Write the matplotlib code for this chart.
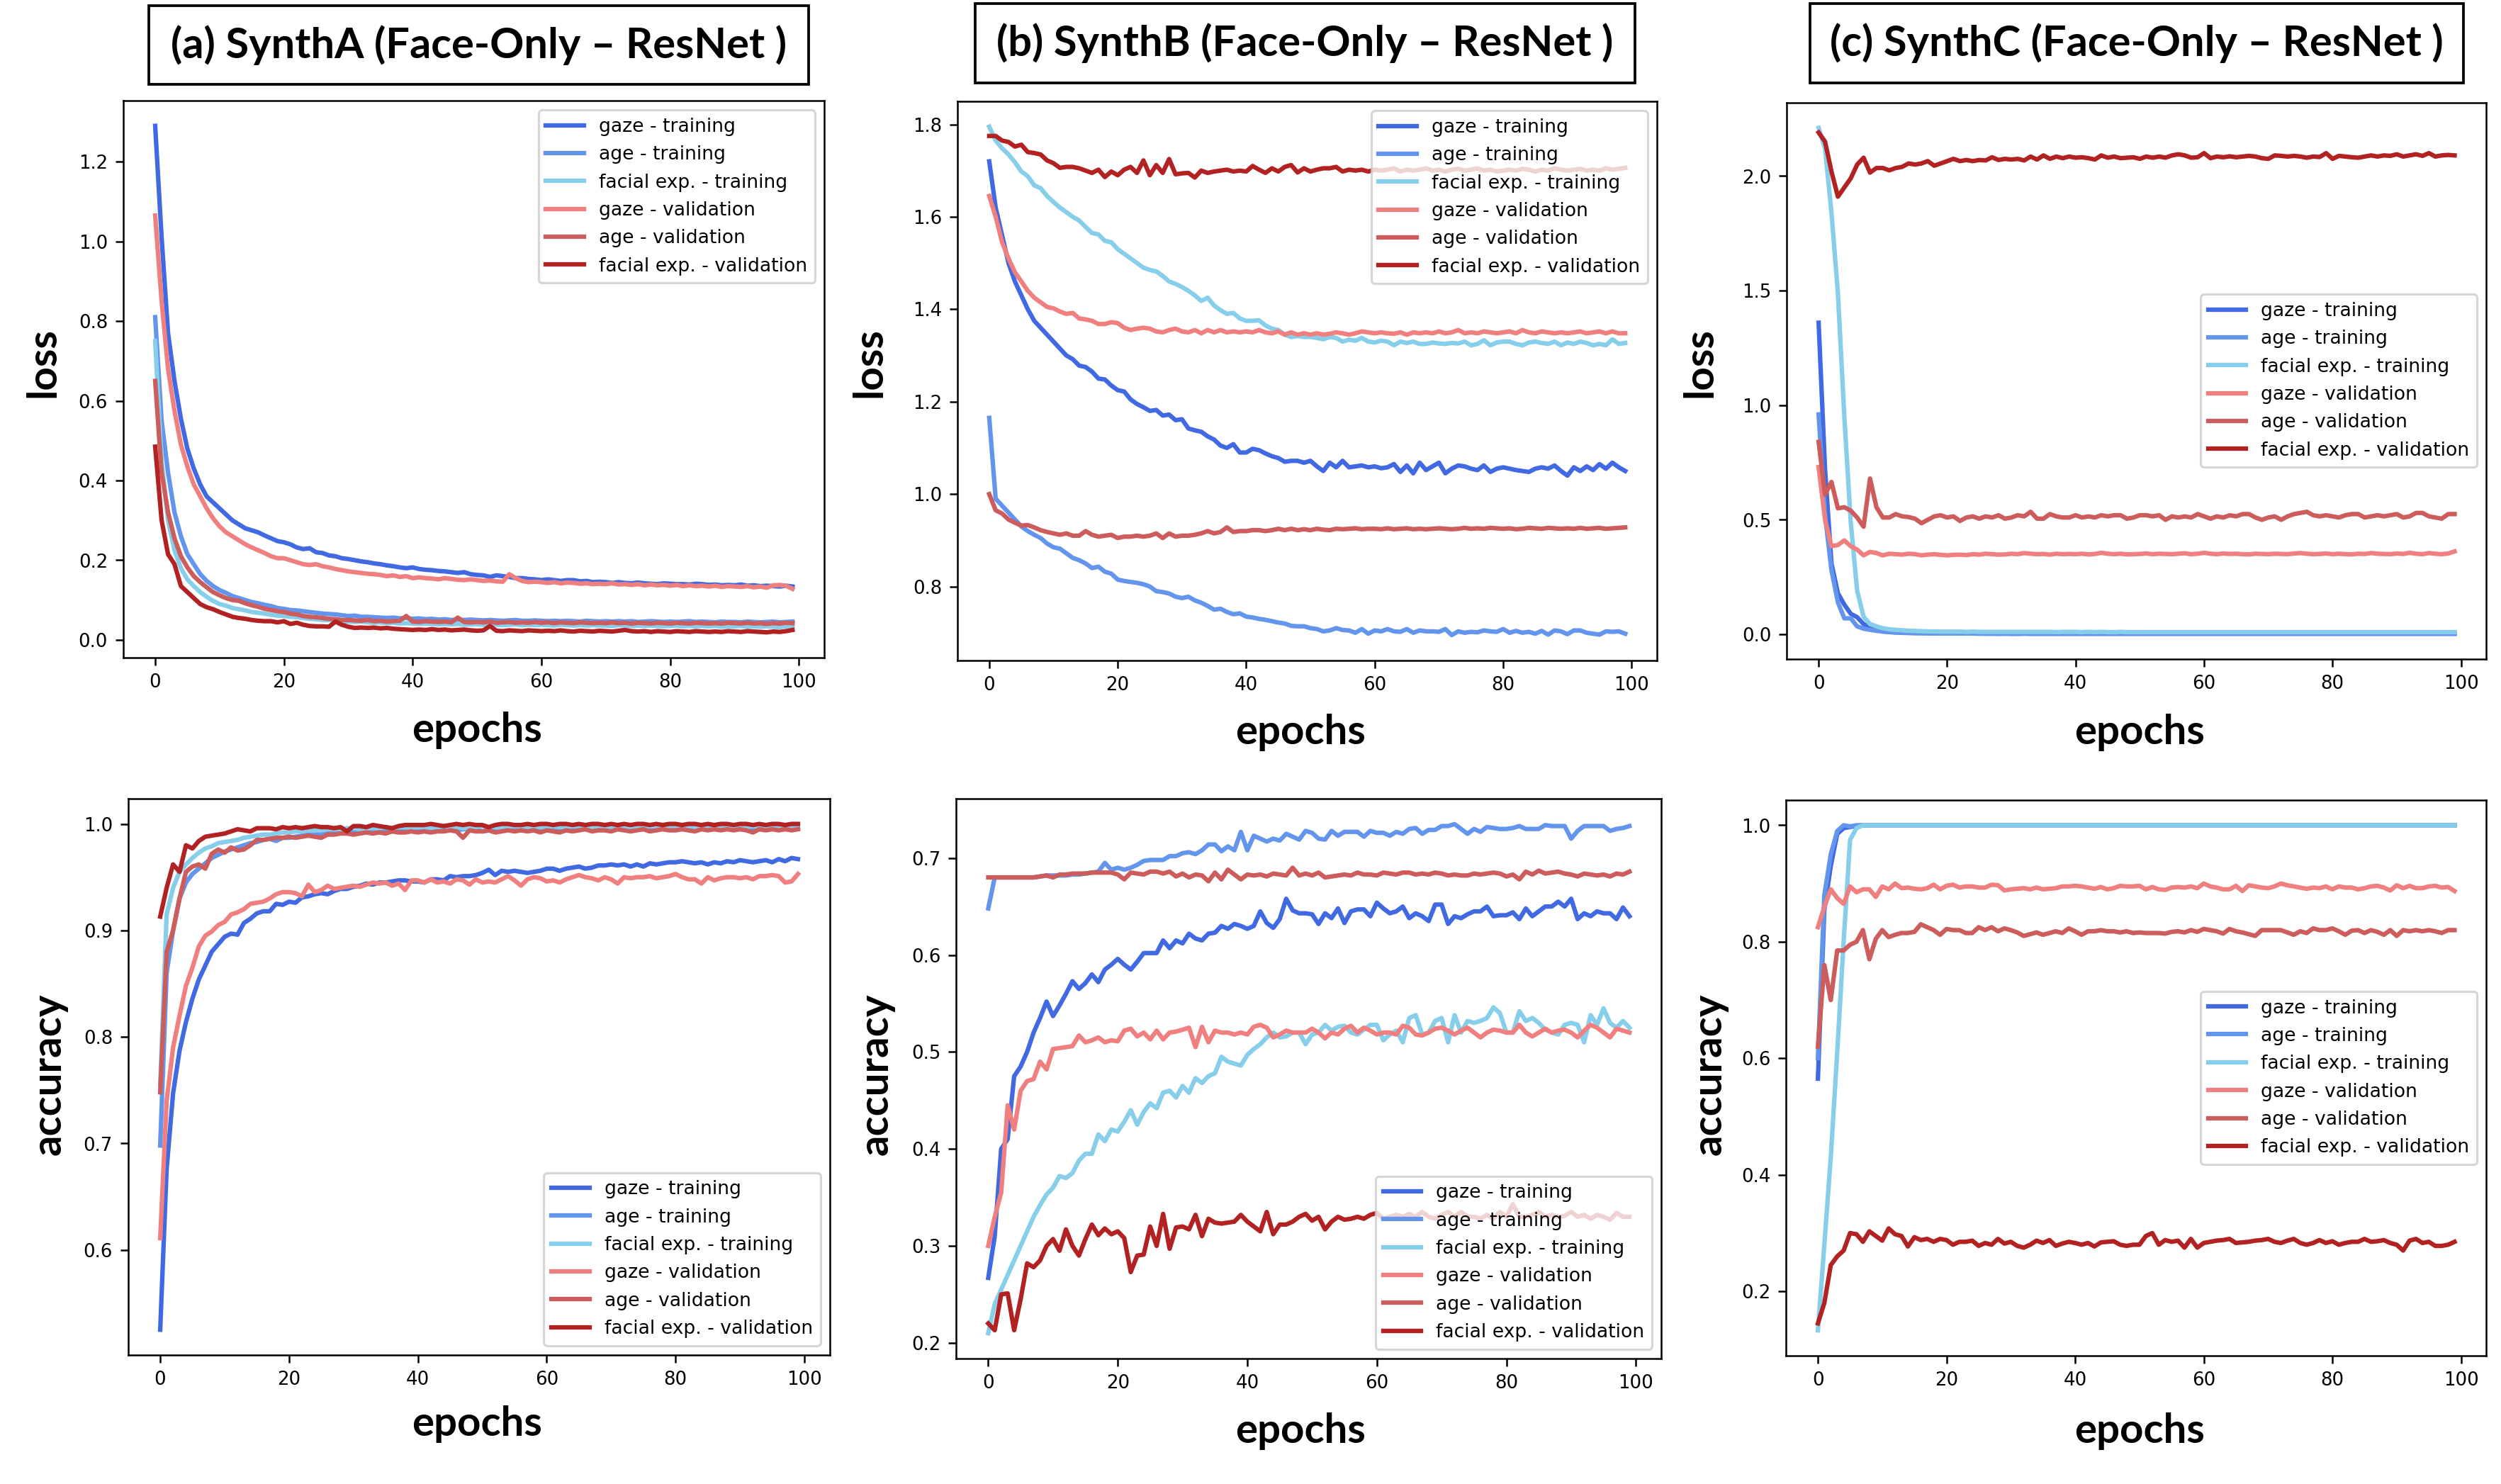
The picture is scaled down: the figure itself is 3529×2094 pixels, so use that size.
import matplotlib
matplotlib.use('Agg')
import matplotlib.pyplot as plt
from matplotlib.patches import Rectangle
from matplotlib.ticker import MultipleLocator

epochs = list(range(100))

series_labels = ['gaze - training', 'age - training', 'facial exp. - training',
                 'gaze - validation', 'age - validation', 'facial exp. - validation']
series_colors = ['#4169E1', '#6495ED', '#87CEEB', '#F08080', '#CD5C5C', '#B22222']

panel_titles = ['(a) SynthA (Face-Only \u2013 ResNet )',
                '(b) SynthB (Face-Only \u2013 ResNet )',
                '(c) SynthC (Face-Only \u2013 ResNet )']

# ---------------- (a) SynthA loss ----------------
loss_a_gaze_tr = [1.29, 1.01, 0.77, 0.65, 0.555, 0.48, 0.43, 0.39, 0.36, 0.345,
                  0.33, 0.315, 0.30, 0.29, 0.28, 0.275, 0.27, 0.262, 0.255, 0.248,
                  0.245, 0.24, 0.232, 0.228, 0.23, 0.22, 0.218, 0.212, 0.21, 0.205,
                  0.203, 0.2, 0.197, 0.195, 0.192, 0.19, 0.187, 0.185, 0.182, 0.18,
                  0.182, 0.178, 0.176, 0.175, 0.173, 0.172, 0.17, 0.168, 0.17, 0.165,
                  0.163, 0.162, 0.158, 0.162, 0.16, 0.158, 0.155, 0.155, 0.153, 0.152,
                  0.15, 0.152, 0.15, 0.148, 0.15, 0.15, 0.147, 0.148, 0.145, 0.146,
                  0.145, 0.143, 0.145, 0.143, 0.142, 0.144, 0.142, 0.141, 0.14, 0.142,
                  0.141, 0.14, 0.14, 0.139, 0.141, 0.14, 0.138, 0.139, 0.137, 0.138,
                  0.137, 0.139, 0.136, 0.137, 0.135, 0.136, 0.135, 0.134, 0.136, 0.134]
loss_a_age_tr = [0.81, 0.55, 0.42, 0.32, 0.26, 0.215, 0.19, 0.165, 0.148, 0.135,
                 0.125, 0.118, 0.11, 0.105, 0.1, 0.095, 0.092, 0.088, 0.085, 0.08,
                 0.078, 0.075, 0.074, 0.072, 0.07, 0.068, 0.066, 0.065, 0.064, 0.062,
                 0.06, 0.061, 0.058, 0.058, 0.057, 0.056, 0.055, 0.056, 0.054, 0.055,
                 0.053, 0.054, 0.052, 0.053, 0.051, 0.052, 0.05, 0.051, 0.05, 0.051,
                 0.05, 0.049, 0.05, 0.049, 0.048, 0.049, 0.05, 0.048, 0.048, 0.049,
                 0.048, 0.047, 0.048, 0.047, 0.048, 0.047, 0.046, 0.048, 0.047, 0.046,
                 0.047, 0.046, 0.047, 0.046, 0.047, 0.045, 0.046, 0.047, 0.046, 0.045,
                 0.046, 0.045, 0.046, 0.047, 0.045, 0.046, 0.045, 0.044, 0.046, 0.045,
                 0.045, 0.044, 0.046, 0.045, 0.044, 0.045, 0.046, 0.044, 0.045, 0.046]
loss_a_fac_tr = [0.75, 0.45, 0.3, 0.225, 0.18, 0.152, 0.135, 0.12, 0.108, 0.098,
                 0.09, 0.086, 0.08, 0.077, 0.074, 0.07, 0.068, 0.066, 0.063, 0.061,
                 0.06, 0.058, 0.057, 0.055, 0.053, 0.052, 0.05, 0.05, 0.048, 0.047,
                 0.046, 0.045, 0.046, 0.044, 0.043, 0.044, 0.042, 0.043, 0.041, 0.042,
                 0.041, 0.04, 0.041, 0.04, 0.039, 0.04, 0.039, 0.04, 0.038, 0.039,
                 0.039, 0.038, 0.039, 0.038, 0.037, 0.038, 0.039, 0.037, 0.038, 0.037,
                 0.038, 0.037, 0.036, 0.038, 0.037, 0.036, 0.037, 0.036, 0.037, 0.036,
                 0.036, 0.035, 0.037, 0.036, 0.035, 0.036, 0.035, 0.036, 0.035, 0.034,
                 0.035, 0.036, 0.034, 0.035, 0.034, 0.035, 0.034, 0.035, 0.033, 0.034,
                 0.034, 0.035, 0.033, 0.034, 0.033, 0.034, 0.033, 0.032, 0.034, 0.035]
loss_a_gaze_val = [1.065, 0.85, 0.68, 0.575, 0.49, 0.435, 0.39, 0.36, 0.33, 0.305,
                   0.285, 0.27, 0.26, 0.25, 0.24, 0.232, 0.225, 0.218, 0.21, 0.205,
                   0.205, 0.2, 0.195, 0.19, 0.188, 0.19, 0.185, 0.182, 0.178, 0.175,
                   0.172, 0.17, 0.168, 0.166, 0.165, 0.163, 0.16, 0.162, 0.158, 0.16,
                   0.155, 0.157, 0.155, 0.154, 0.152, 0.155, 0.153, 0.151, 0.15, 0.152,
                   0.15, 0.148, 0.149, 0.147, 0.146, 0.165, 0.155, 0.148, 0.145, 0.146,
                   0.145, 0.143, 0.145, 0.142, 0.144, 0.143, 0.141, 0.142, 0.14, 0.141,
                   0.14, 0.142, 0.139, 0.14, 0.138, 0.14, 0.137, 0.139, 0.137, 0.138,
                   0.136, 0.138, 0.135, 0.137, 0.135, 0.136, 0.134, 0.136, 0.133, 0.135,
                   0.134, 0.133, 0.135, 0.132, 0.134, 0.131, 0.137, 0.138, 0.136, 0.128]
loss_a_age_val = [0.65, 0.42, 0.32, 0.255, 0.21, 0.182, 0.16, 0.145, 0.132, 0.12,
                  0.112, 0.105, 0.1, 0.098, 0.092, 0.087, 0.083, 0.078, 0.075, 0.072,
                  0.07, 0.066, 0.064, 0.06, 0.058, 0.057, 0.055, 0.053, 0.052, 0.05,
                  0.05, 0.049, 0.048, 0.05, 0.047, 0.048, 0.046, 0.047, 0.048, 0.06,
                  0.046, 0.045, 0.047, 0.046, 0.045, 0.046, 0.044, 0.056, 0.045, 0.044,
                  0.045, 0.044, 0.046, 0.043, 0.044, 0.045, 0.043, 0.044, 0.043, 0.045,
                  0.043, 0.044, 0.042, 0.044, 0.043, 0.042, 0.044, 0.043, 0.042, 0.043,
                  0.042, 0.044, 0.042, 0.043, 0.041, 0.043, 0.042, 0.041, 0.043, 0.042,
                  0.041, 0.043, 0.042, 0.041, 0.043, 0.042, 0.041, 0.042, 0.041, 0.043,
                  0.042, 0.041, 0.043, 0.041, 0.042, 0.04, 0.042, 0.041, 0.043, 0.042]
loss_a_fac_val = [0.485, 0.3, 0.215, 0.19, 0.135, 0.12, 0.105, 0.09, 0.082, 0.077,
                  0.07, 0.064, 0.058, 0.055, 0.053, 0.05, 0.048, 0.047, 0.047, 0.044,
                  0.047, 0.04, 0.043, 0.038, 0.035, 0.034, 0.034, 0.033, 0.046, 0.038,
                  0.033, 0.03, 0.031, 0.03, 0.031, 0.029, 0.03, 0.028, 0.027, 0.026,
                  0.025, 0.026, 0.025, 0.027, 0.025, 0.026, 0.024, 0.025, 0.026, 0.024,
                  0.023, 0.024, 0.035, 0.023, 0.022, 0.024, 0.023, 0.022, 0.024, 0.023,
                  0.022, 0.023, 0.022, 0.024, 0.022, 0.021, 0.023, 0.022, 0.021, 0.023,
                  0.022, 0.021, 0.023, 0.025, 0.022, 0.021, 0.022, 0.02, 0.022, 0.021,
                  0.02, 0.022, 0.021, 0.02, 0.022, 0.021, 0.02, 0.021, 0.02, 0.022,
                  0.021, 0.02, 0.022, 0.021, 0.02, 0.019, 0.021, 0.02, 0.022, 0.025]

# ---------------- (b) SynthB loss ----------------
loss_b_gaze_tr = [1.72, 1.62, 1.56, 1.50, 1.46, 1.43, 1.40, 1.375, 1.36, 1.345,
                  1.33, 1.315, 1.30, 1.292, 1.278, 1.275, 1.265, 1.25, 1.248, 1.235,
                  1.225, 1.222, 1.205, 1.195, 1.188, 1.18, 1.182, 1.17, 1.172, 1.16,
                  1.162, 1.142, 1.138, 1.135, 1.125, 1.118, 1.105, 1.1, 1.108, 1.09,
                  1.09, 1.098, 1.095, 1.088, 1.082, 1.078, 1.07, 1.072, 1.072, 1.068,
                  1.072, 1.06, 1.05, 1.068, 1.058, 1.072, 1.058, 1.06, 1.062, 1.058,
                  1.06, 1.056, 1.058, 1.065, 1.048, 1.062, 1.045, 1.068, 1.052, 1.06,
                  1.068, 1.045, 1.055, 1.062, 1.06, 1.055, 1.052, 1.062, 1.048, 1.055,
                  1.058, 1.055, 1.052, 1.05, 1.048, 1.055, 1.058, 1.055, 1.062, 1.05,
                  1.04, 1.058, 1.05, 1.06, 1.052, 1.065, 1.055, 1.068, 1.058, 1.05]
loss_b_age_tr = [1.165, 0.99, 0.975, 0.96, 0.945, 0.93, 0.92, 0.912, 0.905, 0.893,
                 0.885, 0.882, 0.872, 0.862, 0.857, 0.85, 0.84, 0.843, 0.832, 0.828,
                 0.815, 0.812, 0.81, 0.808, 0.805, 0.8, 0.79, 0.788, 0.785, 0.778,
                 0.775, 0.778, 0.77, 0.765, 0.758, 0.75, 0.752, 0.745, 0.74, 0.742,
                 0.735, 0.733, 0.73, 0.728, 0.725, 0.722, 0.72, 0.715, 0.714, 0.714,
                 0.71, 0.708, 0.703, 0.705, 0.71, 0.706, 0.705, 0.7, 0.708, 0.698,
                 0.705, 0.703, 0.708, 0.703, 0.702, 0.708, 0.7, 0.705, 0.703, 0.703,
                 0.702, 0.708, 0.695, 0.703, 0.7, 0.702, 0.701, 0.705, 0.703, 0.702,
                 0.708, 0.7, 0.704, 0.7, 0.702, 0.698, 0.704, 0.696, 0.705, 0.703,
                 0.697, 0.705, 0.705, 0.7, 0.698, 0.696, 0.703, 0.702, 0.703, 0.698]
loss_b_fac_tr = [1.795, 1.765, 1.748, 1.735, 1.718, 1.698, 1.688, 1.668, 1.662, 1.645,
                 1.632, 1.62, 1.61, 1.6, 1.592, 1.578, 1.565, 1.562, 1.548, 1.545,
                 1.53, 1.52, 1.51, 1.5, 1.49, 1.485, 1.482, 1.472, 1.46, 1.455,
                 1.448, 1.44, 1.43, 1.418, 1.425, 1.408, 1.398, 1.39, 1.392, 1.38,
                 1.375, 1.375, 1.376, 1.365, 1.358, 1.355, 1.345, 1.34, 1.342, 1.34,
                 1.34, 1.338, 1.335, 1.34, 1.338, 1.33, 1.334, 1.332, 1.338, 1.33,
                 1.328, 1.332, 1.33, 1.322, 1.33, 1.327, 1.33, 1.325, 1.325, 1.328,
                 1.326, 1.325, 1.327, 1.326, 1.33, 1.322, 1.325, 1.333, 1.322, 1.328,
                 1.33, 1.33, 1.325, 1.322, 1.328, 1.33, 1.327, 1.325, 1.33, 1.322,
                 1.328, 1.325, 1.33, 1.327, 1.322, 1.325, 1.322, 1.335, 1.325, 1.327]
loss_b_gaze_val = [1.645, 1.6, 1.545, 1.51, 1.48, 1.46, 1.44, 1.425, 1.415, 1.405,
                   1.402, 1.395, 1.39, 1.392, 1.38, 1.378, 1.375, 1.368, 1.368, 1.372,
                   1.37, 1.36, 1.355, 1.358, 1.36, 1.358, 1.352, 1.35, 1.355, 1.358,
                   1.352, 1.35, 1.355, 1.348, 1.355, 1.35, 1.355, 1.35, 1.352, 1.35,
                   1.352, 1.35, 1.355, 1.35, 1.348, 1.352, 1.345, 1.35, 1.345, 1.348,
                   1.345, 1.348, 1.345, 1.347, 1.35, 1.348, 1.345, 1.348, 1.352, 1.35,
                   1.348, 1.35, 1.348, 1.347, 1.35, 1.345, 1.35, 1.348, 1.35, 1.348,
                   1.352, 1.348, 1.35, 1.355, 1.348, 1.35, 1.348, 1.352, 1.35, 1.348,
                   1.35, 1.352, 1.348, 1.355, 1.35, 1.348, 1.352, 1.35, 1.348, 1.35,
                   1.348, 1.35, 1.352, 1.348, 1.35, 1.352, 1.348, 1.352, 1.348, 1.348]
loss_b_age_val = [1.0, 0.965, 0.958, 0.945, 0.938, 0.932, 0.933, 0.928, 0.922, 0.918,
                  0.915, 0.912, 0.915, 0.91, 0.91, 0.92, 0.912, 0.908, 0.91, 0.912,
                  0.905, 0.908, 0.908, 0.91, 0.908, 0.91, 0.915, 0.905, 0.915, 0.908,
                  0.91, 0.91, 0.912, 0.915, 0.92, 0.915, 0.918, 0.928, 0.918, 0.92,
                  0.92, 0.922, 0.922, 0.92, 0.922, 0.925, 0.922, 0.925, 0.922, 0.924,
                  0.922, 0.925, 0.923, 0.922, 0.925, 0.924, 0.925, 0.926, 0.924, 0.925,
                  0.925, 0.924, 0.926, 0.924, 0.925, 0.926, 0.924, 0.925, 0.924, 0.925,
                  0.926, 0.925, 0.924, 0.925, 0.927, 0.925, 0.926, 0.925, 0.927, 0.926,
                  0.925, 0.926, 0.924, 0.925, 0.927, 0.926, 0.925, 0.927, 0.926, 0.925,
                  0.926, 0.925, 0.927, 0.925, 0.926, 0.927, 0.925, 0.926, 0.927, 0.928]
loss_b_fac_val = [1.775, 1.775, 1.765, 1.762, 1.752, 1.756, 1.74, 1.738, 1.735, 1.722,
                  1.716, 1.706, 1.708, 1.708, 1.705, 1.7, 1.695, 1.702, 1.686, 1.698,
                  1.69, 1.702, 1.708, 1.695, 1.722, 1.69, 1.712, 1.695, 1.725, 1.692,
                  1.694, 1.695, 1.685, 1.7, 1.695, 1.698, 1.7, 1.702, 1.698, 1.7,
                  1.698, 1.71, 1.702, 1.695, 1.705, 1.698, 1.708, 1.712, 1.696, 1.705,
                  1.698, 1.702, 1.705, 1.705, 1.708, 1.698, 1.702, 1.7, 1.702, 1.698,
                  1.702, 1.7, 1.702, 1.705, 1.698, 1.702, 1.7, 1.702, 1.705, 1.7,
                  1.702, 1.698, 1.702, 1.704, 1.7, 1.702, 1.705, 1.7, 1.702, 1.698,
                  1.7, 1.702, 1.7, 1.704, 1.702, 1.698, 1.702, 1.7, 1.705, 1.702,
                  1.7, 1.702, 1.704, 1.7, 1.702, 1.7, 1.705, 1.702, 1.704, 1.706]

# ---------------- (c) SynthC loss ----------------
loss_c_gaze_tr = [1.36, 0.72, 0.31, 0.18, 0.13, 0.09, 0.075, 0.045, 0.032, 0.022,
                  0.014, 0.011, 0.009, 0.008, 0.007, 0.006, 0.006, 0.005, 0.005, 0.005,
                  0.004, 0.004, 0.004, 0.004, 0.004, 0.004, 0.003, 0.004, 0.003, 0.004,
                  0.003, 0.003, 0.004, 0.003, 0.003, 0.003, 0.003, 0.003, 0.003, 0.003,
                  0.003, 0.003, 0.003, 0.003, 0.003, 0.003, 0.003, 0.003, 0.003, 0.003,
                  0.003, 0.003, 0.003, 0.003, 0.003, 0.003, 0.003, 0.003, 0.003, 0.003,
                  0.003, 0.003, 0.003, 0.003, 0.003, 0.003, 0.003, 0.003, 0.003, 0.003,
                  0.003, 0.003, 0.003, 0.003, 0.003, 0.003, 0.003, 0.003, 0.003, 0.003,
                  0.003, 0.003, 0.003, 0.003, 0.003, 0.003, 0.003, 0.003, 0.003, 0.003,
                  0.003, 0.003, 0.003, 0.003, 0.003, 0.003, 0.003, 0.003, 0.003, 0.003]
loss_c_age_tr = [0.96, 0.52, 0.28, 0.14, 0.07, 0.07, 0.035, 0.025, 0.02, 0.016,
                 0.012, 0.01, 0.008, 0.007, 0.006, 0.006, 0.005, 0.005, 0.005, 0.004,
                 0.004, 0.004, 0.004, 0.004, 0.004, 0.003, 0.004, 0.003, 0.003, 0.003,
                 0.003, 0.003, 0.003, 0.003, 0.003, 0.003, 0.003, 0.003, 0.003, 0.003,
                 0.003, 0.003, 0.003, 0.003, 0.003, 0.003, 0.003, 0.003, 0.003, 0.003,
                 0.003, 0.003, 0.003, 0.003, 0.003, 0.003, 0.003, 0.003, 0.003, 0.003,
                 0.003, 0.003, 0.003, 0.003, 0.003, 0.003, 0.003, 0.003, 0.003, 0.003,
                 0.003, 0.003, 0.003, 0.003, 0.003, 0.003, 0.003, 0.003, 0.003, 0.003,
                 0.003, 0.003, 0.003, 0.003, 0.003, 0.003, 0.003, 0.003, 0.003, 0.003,
                 0.003, 0.003, 0.003, 0.003, 0.003, 0.003, 0.003, 0.003, 0.003, 0.003]
loss_c_fac_tr = [2.21, 2.12, 1.84, 1.49, 0.95, 0.49, 0.19, 0.077, 0.045, 0.035,
                 0.027, 0.022, 0.02, 0.018, 0.016, 0.015, 0.014, 0.013, 0.013, 0.012,
                 0.012, 0.012, 0.012, 0.011, 0.012, 0.011, 0.011, 0.011, 0.011, 0.011,
                 0.011, 0.011, 0.011, 0.011, 0.011, 0.011, 0.011, 0.01, 0.011, 0.011,
                 0.011, 0.01, 0.011, 0.01, 0.011, 0.01, 0.01, 0.011, 0.01, 0.01,
                 0.01, 0.01, 0.01, 0.01, 0.01, 0.01, 0.01, 0.01, 0.01, 0.01,
                 0.01, 0.01, 0.01, 0.01, 0.01, 0.01, 0.01, 0.01, 0.01, 0.01,
                 0.01, 0.01, 0.01, 0.01, 0.01, 0.01, 0.01, 0.01, 0.01, 0.01,
                 0.01, 0.01, 0.01, 0.01, 0.01, 0.01, 0.01, 0.01, 0.01, 0.01,
                 0.01, 0.01, 0.01, 0.01, 0.01, 0.01, 0.01, 0.01, 0.01, 0.01]
loss_c_gaze_val = [0.73, 0.5, 0.385, 0.39, 0.41, 0.385, 0.37, 0.345, 0.36, 0.355,
                   0.345, 0.352, 0.35, 0.348, 0.352, 0.35, 0.345, 0.348, 0.35, 0.347,
                   0.345, 0.347, 0.348, 0.346, 0.35, 0.348, 0.352, 0.35, 0.348, 0.349,
                   0.352, 0.35, 0.355, 0.352, 0.35, 0.351, 0.348, 0.352, 0.35, 0.351,
                   0.35, 0.352, 0.349, 0.351, 0.356, 0.352, 0.35, 0.352, 0.349, 0.35,
                   0.351, 0.353, 0.35, 0.352, 0.351, 0.35, 0.352, 0.354, 0.35, 0.352,
                   0.356, 0.352, 0.35, 0.353, 0.351, 0.352, 0.35, 0.349, 0.352, 0.351,
                   0.35, 0.352, 0.351, 0.35, 0.353, 0.355, 0.352, 0.35, 0.351, 0.353,
                   0.35, 0.352, 0.35, 0.349, 0.352, 0.351, 0.355, 0.352, 0.351, 0.35,
                   0.353, 0.351, 0.356, 0.352, 0.35, 0.355, 0.352, 0.35, 0.353, 0.362]
loss_c_age_val = [0.84, 0.61, 0.665, 0.55, 0.555, 0.54, 0.51, 0.47, 0.68, 0.555,
                  0.51, 0.51, 0.525, 0.515, 0.512, 0.505, 0.485, 0.5, 0.515, 0.52,
                  0.51, 0.515, 0.495, 0.51, 0.515, 0.505, 0.515, 0.51, 0.52, 0.505,
                  0.51, 0.52, 0.515, 0.535, 0.505, 0.505, 0.525, 0.515, 0.51, 0.51,
                  0.52, 0.51, 0.515, 0.51, 0.52, 0.515, 0.52, 0.52, 0.505, 0.51,
                  0.52, 0.52, 0.515, 0.52, 0.5, 0.515, 0.51, 0.515, 0.51, 0.525,
                  0.515, 0.505, 0.515, 0.51, 0.52, 0.515, 0.525, 0.525, 0.51, 0.5,
                  0.51, 0.515, 0.5, 0.515, 0.525, 0.53, 0.535, 0.52, 0.515, 0.52,
                  0.515, 0.51, 0.52, 0.525, 0.525, 0.51, 0.515, 0.52, 0.515, 0.52,
                  0.525, 0.51, 0.515, 0.53, 0.53, 0.515, 0.51, 0.505, 0.525, 0.525]
loss_c_fac_val = [2.19, 2.15, 2.02, 1.91, 1.95, 1.99, 2.05, 2.08, 2.015, 2.035,
                  2.035, 2.025, 2.035, 2.04, 2.055, 2.05, 2.055, 2.065, 2.045, 2.055,
                  2.065, 2.075, 2.065, 2.07, 2.065, 2.07, 2.068, 2.082, 2.07, 2.075,
                  2.072, 2.075, 2.068, 2.085, 2.072, 2.09, 2.075, 2.085, 2.078, 2.085,
                  2.08, 2.082, 2.078, 2.072, 2.09, 2.08, 2.085, 2.078, 2.08, 2.082,
                  2.075, 2.085, 2.08, 2.085, 2.08, 2.09, 2.095, 2.09, 2.08, 2.082,
                  2.1, 2.078, 2.085, 2.082, 2.086, 2.082, 2.085, 2.088, 2.085, 2.078,
                  2.075, 2.09, 2.088, 2.085, 2.088, 2.085, 2.08, 2.085, 2.083, 2.1,
                  2.075, 2.088, 2.085, 2.082, 2.08, 2.085, 2.09, 2.085, 2.09, 2.088,
                  2.095, 2.085, 2.09, 2.095, 2.088, 2.1, 2.085, 2.09, 2.092, 2.09]

# ---------------- (a) SynthA accuracy ----------------
acc_a_gaze_tr = [0.525, 0.676, 0.747, 0.787, 0.814, 0.836, 0.854, 0.867, 0.88, 0.887,
                 0.894, 0.897, 0.896, 0.907, 0.911, 0.916, 0.918, 0.918, 0.925, 0.924,
                 0.927, 0.926, 0.931, 0.932, 0.934, 0.935, 0.934, 0.937, 0.939, 0.939,
                 0.941, 0.942, 0.944, 0.943, 0.945, 0.945, 0.946, 0.947, 0.947, 0.946,
                 0.946, 0.945, 0.948, 0.948, 0.947, 0.951, 0.95, 0.951, 0.951, 0.952,
                 0.954, 0.957, 0.952, 0.956, 0.955, 0.956, 0.955, 0.954, 0.955, 0.956,
                 0.958, 0.958, 0.956, 0.958, 0.959, 0.96, 0.958, 0.959, 0.961, 0.961,
                 0.962, 0.961, 0.962, 0.96, 0.962, 0.96, 0.963, 0.962, 0.963, 0.964,
                 0.964, 0.965, 0.964, 0.963, 0.964, 0.962, 0.964, 0.963, 0.965, 0.964,
                 0.966, 0.965, 0.964, 0.965, 0.966, 0.964, 0.967, 0.965, 0.968, 0.967]
acc_a_age_tr = [0.698, 0.86, 0.9, 0.93, 0.945, 0.953, 0.958, 0.963, 0.968, 0.971,
                0.974, 0.976, 0.978, 0.98, 0.982, 0.983, 0.985, 0.986, 0.984, 0.987,
                0.987, 0.988, 0.989, 0.99, 0.99, 0.991, 0.992, 0.992, 0.992, 0.993,
                0.993, 0.992, 0.993, 0.994, 0.993, 0.994, 0.993, 0.995, 0.994, 0.994,
                0.995, 0.994, 0.995, 0.994, 0.995, 0.995, 0.994, 0.995, 0.996, 0.995,
                0.993, 0.994, 0.995, 0.995, 0.996, 0.995, 0.994, 0.996, 0.995, 0.995,
                0.996, 0.995, 0.995, 0.996, 0.995, 0.996, 0.995, 0.996, 0.996, 0.995,
                0.996, 0.995, 0.996, 0.996, 0.995, 0.996, 0.996, 0.994, 0.996, 0.995,
                0.996, 0.995, 0.996, 0.996, 0.995, 0.996, 0.996, 0.995, 0.996, 0.996,
                0.995, 0.996, 0.996, 0.995, 0.996, 0.996, 0.995, 0.996, 0.996, 0.997]
acc_a_fac_tr = [0.755, 0.915, 0.94, 0.955, 0.962, 0.968, 0.973, 0.977, 0.979, 0.982,
                0.983, 0.984, 0.985, 0.987, 0.988, 0.989, 0.99, 0.99, 0.991, 0.992,
                0.992, 0.993, 0.993, 0.994, 0.994, 0.994, 0.995, 0.995, 0.995, 0.996,
                0.996, 0.995, 0.996, 0.996, 0.996, 0.997, 0.996, 0.997, 0.997, 0.996,
                0.997, 0.997, 0.996, 0.997, 0.998, 0.997, 0.997, 0.996, 0.997, 0.997,
                0.998, 0.997, 0.997, 0.996, 0.997, 0.998, 0.997, 0.997, 0.998, 0.997,
                0.997, 0.998, 0.997, 0.997, 0.998, 0.997, 0.996, 0.997, 0.998, 0.997,
                0.997, 0.998, 0.997, 0.997, 0.998, 0.997, 0.998, 0.997, 0.997, 0.998,
                0.997, 0.998, 0.997, 0.997, 0.998, 0.997, 0.998, 0.997, 0.998, 0.997,
                0.998, 0.997, 0.998, 0.997, 0.998, 0.997, 0.998, 0.997, 0.998, 0.998]
acc_a_gaze_val = [0.611, 0.74, 0.79, 0.82, 0.848, 0.865, 0.885, 0.895, 0.899, 0.905,
                  0.908, 0.915, 0.917, 0.92, 0.925, 0.926, 0.927, 0.93, 0.934, 0.936,
                  0.936, 0.935, 0.932, 0.943, 0.936, 0.938, 0.942, 0.939, 0.94, 0.941,
                  0.942, 0.941, 0.943, 0.945, 0.944, 0.945, 0.942, 0.944, 0.938, 0.947,
                  0.947, 0.945, 0.948, 0.945, 0.946, 0.944, 0.948, 0.947, 0.943, 0.948,
                  0.945, 0.946, 0.945, 0.948, 0.951, 0.947, 0.942, 0.948, 0.95, 0.949,
                  0.946, 0.947, 0.945, 0.948, 0.95, 0.952, 0.95, 0.949, 0.947, 0.95,
                  0.948, 0.944, 0.95, 0.949, 0.95, 0.95, 0.951, 0.949, 0.95, 0.951,
                  0.953, 0.95, 0.948, 0.948, 0.944, 0.95, 0.947, 0.949, 0.95, 0.95,
                  0.949, 0.95, 0.948, 0.951, 0.951, 0.952, 0.951, 0.945, 0.946, 0.953]
acc_a_age_val = [0.748, 0.88, 0.9, 0.93, 0.955, 0.96, 0.962, 0.958, 0.972, 0.976,
                 0.973, 0.978, 0.975, 0.976, 0.98, 0.985, 0.985, 0.986, 0.987, 0.987,
                 0.988, 0.987, 0.988, 0.989, 0.988, 0.987, 0.99, 0.99, 0.991, 0.991,
                 0.99, 0.991, 0.992, 0.991, 0.992, 0.991, 0.993, 0.992, 0.992, 0.993,
                 0.992, 0.993, 0.992, 0.993, 0.993, 0.994, 0.993, 0.987, 0.994, 0.993,
                 0.993, 0.994, 0.992, 0.993, 0.994, 0.993, 0.994, 0.993, 0.994, 0.992,
                 0.994, 0.993, 0.992, 0.994, 0.993, 0.994, 0.995, 0.993, 0.994, 0.994,
                 0.993, 0.995, 0.994, 0.993, 0.994, 0.995, 0.993, 0.994, 0.995, 0.994,
                 0.994, 0.995, 0.994, 0.993, 0.995, 0.994, 0.995, 0.994, 0.995, 0.994,
                 0.995, 0.994, 0.992, 0.995, 0.994, 0.995, 0.994, 0.995, 0.994, 0.995]
acc_a_fac_val = [0.913, 0.94, 0.962, 0.955, 0.98, 0.977, 0.984, 0.988, 0.989, 0.99,
                 0.991, 0.993, 0.995, 0.994, 0.993, 0.996, 0.996, 0.996, 0.995, 0.997,
                 0.996, 0.997, 0.996, 0.997, 0.998, 0.997, 0.997, 0.996, 0.997, 0.993,
                 0.998, 0.998, 0.997, 0.999, 0.998, 0.997, 0.996, 0.998, 0.999, 0.999,
                 0.999, 0.999, 1.0, 0.999, 0.998, 0.999, 1.0, 0.999, 1.0, 0.999,
                 0.999, 0.997, 0.999, 1.0, 1.0, 0.999, 0.999, 1.0, 0.999, 1.0,
                 1.0, 0.999, 1.0, 1.0, 0.999, 1.0, 0.999, 1.0, 1.0, 0.999,
                 1.0, 0.999, 1.0, 0.999, 1.0, 1.0, 0.999, 1.0, 0.999, 1.0,
                 1.0, 0.999, 1.0, 1.0, 0.999, 1.0, 0.999, 1.0, 1.0, 0.999,
                 1.0, 1.0, 0.999, 1.0, 0.999, 1.0, 1.0, 0.999, 1.0, 1.0]

# ---------------- (b) SynthB accuracy ----------------
acc_b_gaze_tr = [0.267, 0.31, 0.40, 0.41, 0.475, 0.485, 0.50, 0.52, 0.535, 0.552,
                 0.537, 0.548, 0.56, 0.573, 0.565, 0.571, 0.58, 0.572, 0.585, 0.59,
                 0.596, 0.59, 0.585, 0.593, 0.602, 0.602, 0.602, 0.615, 0.607, 0.615,
                 0.612, 0.622, 0.617, 0.615, 0.622, 0.623, 0.63, 0.627, 0.632, 0.63,
                 0.627, 0.63, 0.645, 0.633, 0.628, 0.637, 0.658, 0.646, 0.643, 0.643,
                 0.642, 0.632, 0.643, 0.638, 0.648, 0.633, 0.645, 0.647, 0.647, 0.64,
                 0.654, 0.648, 0.643, 0.645, 0.65, 0.638, 0.643, 0.64, 0.635, 0.652,
                 0.652, 0.632, 0.64, 0.638, 0.642, 0.645, 0.645, 0.65, 0.64, 0.641,
                 0.641, 0.644, 0.637, 0.648, 0.64, 0.645, 0.65, 0.65, 0.655, 0.65,
                 0.658, 0.637, 0.643, 0.64, 0.645, 0.643, 0.643, 0.637, 0.649, 0.64]
acc_b_age_tr = [0.648, 0.68, 0.68, 0.68, 0.68, 0.68, 0.68, 0.68, 0.681, 0.682,
                0.682, 0.682, 0.682, 0.683, 0.683, 0.684, 0.685, 0.686, 0.695, 0.688,
                0.69, 0.688, 0.69, 0.693, 0.697, 0.698, 0.698, 0.698, 0.702, 0.702,
                0.705, 0.706, 0.704, 0.708, 0.714, 0.714, 0.707, 0.712, 0.708, 0.727,
                0.708, 0.723, 0.72, 0.717, 0.72, 0.718, 0.725, 0.722, 0.719, 0.728,
                0.726, 0.72, 0.719, 0.728, 0.723, 0.727, 0.727, 0.727, 0.722, 0.728,
                0.726, 0.726, 0.723, 0.727, 0.725, 0.73, 0.731, 0.725, 0.729, 0.729,
                0.733, 0.733, 0.735, 0.73, 0.725, 0.73, 0.727, 0.732, 0.731, 0.73,
                0.73, 0.731, 0.733, 0.73, 0.73, 0.73, 0.734, 0.733, 0.733, 0.733,
                0.72, 0.728, 0.733, 0.733, 0.733, 0.733, 0.728, 0.73, 0.731, 0.733]
acc_b_fac_tr = [0.21, 0.24, 0.255, 0.27, 0.285, 0.30, 0.315, 0.33, 0.342, 0.353,
                0.36, 0.372, 0.37, 0.375, 0.388, 0.395, 0.395, 0.415, 0.408, 0.42,
                0.418, 0.428, 0.44, 0.425, 0.438, 0.447, 0.442, 0.458, 0.46, 0.453,
                0.465, 0.458, 0.473, 0.468, 0.475, 0.478, 0.495, 0.49, 0.488, 0.486,
                0.497, 0.503, 0.508, 0.515, 0.52, 0.515, 0.516, 0.52, 0.52, 0.508,
                0.518, 0.52, 0.528, 0.522, 0.526, 0.527, 0.52, 0.518, 0.523, 0.528,
                0.528, 0.512, 0.518, 0.522, 0.51, 0.535, 0.538, 0.518, 0.52, 0.532,
                0.535, 0.51, 0.538, 0.52, 0.532, 0.53, 0.532, 0.535, 0.546, 0.54,
                0.52, 0.52, 0.542, 0.532, 0.535, 0.53, 0.523, 0.52, 0.518, 0.528,
                0.53, 0.528, 0.51, 0.538, 0.528, 0.545, 0.53, 0.525, 0.532, 0.525]
acc_b_gaze_val = [0.30, 0.33, 0.355, 0.445, 0.42, 0.46, 0.47, 0.472, 0.49, 0.482,
                  0.503, 0.504, 0.505, 0.506, 0.517, 0.51, 0.512, 0.515, 0.51, 0.512,
                  0.511, 0.522, 0.524, 0.516, 0.52, 0.513, 0.522, 0.513, 0.52, 0.521,
                  0.523, 0.525, 0.505, 0.526, 0.51, 0.522, 0.52, 0.52, 0.518, 0.52,
                  0.518, 0.526, 0.528, 0.525, 0.515, 0.518, 0.522, 0.52, 0.52, 0.52,
                  0.524, 0.52, 0.514, 0.52, 0.518, 0.524, 0.527, 0.52, 0.525, 0.522,
                  0.518, 0.52, 0.52, 0.518, 0.527, 0.525, 0.518, 0.517, 0.52, 0.524,
                  0.525, 0.522, 0.518, 0.522, 0.525, 0.52, 0.515, 0.52, 0.523, 0.522,
                  0.52, 0.52, 0.528, 0.52, 0.516, 0.52, 0.524, 0.52, 0.522, 0.523,
                  0.52, 0.515, 0.522, 0.528, 0.525, 0.52, 0.515, 0.524, 0.522, 0.52]
acc_b_age_val = [0.68, 0.68, 0.68, 0.68, 0.68, 0.68, 0.68, 0.68, 0.681, 0.682,
                 0.68, 0.683, 0.683, 0.684, 0.684, 0.684, 0.685, 0.685, 0.685, 0.685,
                 0.683, 0.678, 0.685, 0.684, 0.683, 0.686, 0.686, 0.684, 0.686, 0.681,
                 0.684, 0.68, 0.683, 0.682, 0.676, 0.685, 0.678, 0.688, 0.683, 0.678,
                 0.683, 0.682, 0.683, 0.681, 0.684, 0.683, 0.682, 0.69, 0.682, 0.684,
                 0.682, 0.685, 0.68, 0.681, 0.682, 0.683, 0.682, 0.685, 0.683, 0.683,
                 0.682, 0.685, 0.684, 0.683, 0.685, 0.685, 0.683, 0.684, 0.683, 0.685,
                 0.684, 0.682, 0.683, 0.682, 0.682, 0.684, 0.683, 0.684, 0.685, 0.684,
                 0.681, 0.683, 0.678, 0.686, 0.683, 0.687, 0.684, 0.685, 0.686, 0.684,
                 0.683, 0.681, 0.684, 0.683, 0.682, 0.683, 0.681, 0.684, 0.683, 0.686]
acc_b_fac_val = [0.22, 0.213, 0.25, 0.251, 0.213, 0.245, 0.282, 0.278, 0.285, 0.30,
                 0.307, 0.295, 0.317, 0.30, 0.29, 0.307, 0.322, 0.311, 0.318, 0.312,
                 0.315, 0.308, 0.273, 0.29, 0.291, 0.32, 0.30, 0.333, 0.297, 0.319,
                 0.32, 0.317, 0.332, 0.31, 0.328, 0.324, 0.323, 0.324, 0.325, 0.332,
                 0.325, 0.32, 0.315, 0.335, 0.312, 0.322, 0.322, 0.325, 0.33, 0.333,
                 0.326, 0.33, 0.317, 0.325, 0.33, 0.327, 0.328, 0.33, 0.328, 0.332,
                 0.334, 0.328, 0.33, 0.332, 0.33, 0.333, 0.33, 0.335, 0.33, 0.328,
                 0.332, 0.335, 0.33, 0.335, 0.33, 0.33, 0.328, 0.332, 0.328, 0.335,
                 0.33, 0.343, 0.33, 0.33, 0.332, 0.335, 0.33, 0.332, 0.33, 0.331,
                 0.335, 0.33, 0.332, 0.328, 0.332, 0.33, 0.327, 0.334, 0.33, 0.33]

# ---------------- (c) SynthC accuracy ----------------
acc_c_gaze_tr = [0.565, 0.855, 0.93, 0.985, 0.995, 0.997, 0.999, 1.0, 1.0, 1.0,
                 1.0, 1.0, 1.0, 1.0, 1.0, 1.0, 1.0, 1.0, 1.0, 1.0,
                 1.0, 1.0, 1.0, 1.0, 1.0, 1.0, 1.0, 1.0, 1.0, 1.0,
                 1.0, 1.0, 1.0, 1.0, 1.0, 1.0, 1.0, 1.0, 1.0, 1.0,
                 1.0, 1.0, 1.0, 1.0, 1.0, 1.0, 1.0, 1.0, 1.0, 1.0,
                 1.0, 1.0, 1.0, 1.0, 1.0, 1.0, 1.0, 1.0, 1.0, 1.0,
                 1.0, 1.0, 1.0, 1.0, 1.0, 1.0, 1.0, 1.0, 1.0, 1.0,
                 1.0, 1.0, 1.0, 1.0, 1.0, 1.0, 1.0, 1.0, 1.0, 1.0,
                 1.0, 1.0, 1.0, 1.0, 1.0, 1.0, 1.0, 1.0, 1.0, 1.0,
                 1.0, 1.0, 1.0, 1.0, 1.0, 1.0, 1.0, 1.0, 1.0, 1.0]
acc_c_age_tr = [0.60, 0.88, 0.95, 0.99, 1.0, 0.998, 1.0, 1.0, 1.0, 1.0,
                1.0, 1.0, 1.0, 1.0, 1.0, 1.0, 1.0, 1.0, 1.0, 1.0,
                1.0, 1.0, 1.0, 1.0, 1.0, 1.0, 1.0, 1.0, 1.0, 1.0,
                1.0, 1.0, 1.0, 1.0, 1.0, 1.0, 1.0, 1.0, 1.0, 1.0,
                1.0, 1.0, 1.0, 1.0, 1.0, 1.0, 1.0, 1.0, 1.0, 1.0,
                1.0, 1.0, 1.0, 1.0, 1.0, 1.0, 1.0, 1.0, 1.0, 1.0,
                1.0, 1.0, 1.0, 1.0, 1.0, 1.0, 1.0, 1.0, 1.0, 1.0,
                1.0, 1.0, 1.0, 1.0, 1.0, 1.0, 1.0, 1.0, 1.0, 1.0,
                1.0, 1.0, 1.0, 1.0, 1.0, 1.0, 1.0, 1.0, 1.0, 1.0,
                1.0, 1.0, 1.0, 1.0, 1.0, 1.0, 1.0, 1.0, 1.0, 1.0]
acc_c_fac_tr = [0.133, 0.28, 0.43, 0.61, 0.8, 0.975, 0.995, 1.0, 1.0, 1.0,
                1.0, 1.0, 1.0, 1.0, 1.0, 1.0, 1.0, 1.0, 1.0, 1.0,
                1.0, 1.0, 1.0, 1.0, 1.0, 1.0, 1.0, 1.0, 1.0, 1.0,
                1.0, 1.0, 1.0, 1.0, 1.0, 1.0, 1.0, 1.0, 1.0, 1.0,
                1.0, 1.0, 1.0, 1.0, 1.0, 1.0, 1.0, 1.0, 1.0, 1.0,
                1.0, 1.0, 1.0, 1.0, 1.0, 1.0, 1.0, 1.0, 1.0, 1.0,
                1.0, 1.0, 1.0, 1.0, 1.0, 1.0, 1.0, 1.0, 1.0, 1.0,
                1.0, 1.0, 1.0, 1.0, 1.0, 1.0, 1.0, 1.0, 1.0, 1.0,
                1.0, 1.0, 1.0, 1.0, 1.0, 1.0, 1.0, 1.0, 1.0, 1.0,
                1.0, 1.0, 1.0, 1.0, 1.0, 1.0, 1.0, 1.0, 1.0, 1.0]
acc_c_gaze_val = [0.825, 0.86, 0.89, 0.875, 0.865, 0.895, 0.885, 0.89, 0.89, 0.877,
                  0.895, 0.89, 0.9, 0.892, 0.893, 0.891, 0.89, 0.892, 0.898, 0.89,
                  0.896, 0.898, 0.893, 0.895, 0.895, 0.893, 0.893, 0.898, 0.897, 0.888,
                  0.89, 0.891, 0.892, 0.89, 0.893, 0.89, 0.891, 0.892, 0.895, 0.895,
                  0.896, 0.895, 0.893, 0.891, 0.894, 0.89, 0.892, 0.896, 0.895, 0.895,
                  0.896, 0.89, 0.894, 0.89, 0.889, 0.893, 0.894, 0.893, 0.895, 0.892,
                  0.9, 0.895, 0.893, 0.89, 0.89, 0.896, 0.887, 0.897, 0.895, 0.893,
                  0.892, 0.895, 0.9, 0.897, 0.895, 0.893, 0.891, 0.893, 0.892, 0.895,
                  0.89, 0.895, 0.893, 0.893, 0.89, 0.892, 0.895, 0.896, 0.893, 0.888,
                  0.897, 0.892, 0.896, 0.892, 0.892, 0.895, 0.896, 0.893, 0.894, 0.887]
acc_c_age_val = [0.62, 0.76, 0.70, 0.785, 0.785, 0.795, 0.8, 0.82, 0.77, 0.805,
                 0.82, 0.808, 0.812, 0.815, 0.815, 0.817, 0.83, 0.825, 0.82, 0.812,
                 0.822, 0.82, 0.82, 0.815, 0.815, 0.825, 0.82, 0.825, 0.818, 0.823,
                 0.82, 0.816, 0.81, 0.813, 0.816, 0.812, 0.815, 0.818, 0.815, 0.823,
                 0.818, 0.812, 0.818, 0.818, 0.82, 0.818, 0.818, 0.816, 0.818, 0.815,
                 0.816, 0.815, 0.815, 0.815, 0.814, 0.817, 0.818, 0.816, 0.82, 0.817,
                 0.822, 0.82, 0.818, 0.814, 0.822, 0.818, 0.816, 0.813, 0.81, 0.82,
                 0.82, 0.82, 0.82, 0.816, 0.812, 0.818, 0.815, 0.823, 0.82, 0.82,
                 0.823, 0.818, 0.812, 0.819, 0.82, 0.815, 0.82, 0.817, 0.812, 0.82,
                 0.81, 0.82, 0.818, 0.82, 0.818, 0.82, 0.818, 0.815, 0.82, 0.82]
acc_c_fac_val = [0.145, 0.18, 0.245, 0.26, 0.27, 0.30, 0.298, 0.285, 0.303, 0.295,
                 0.287, 0.308, 0.298, 0.295, 0.277, 0.293, 0.288, 0.29, 0.285, 0.29,
                 0.288, 0.28, 0.285, 0.285, 0.287, 0.278, 0.283, 0.28, 0.29, 0.282,
                 0.285, 0.278, 0.275, 0.28, 0.287, 0.283, 0.288, 0.278, 0.282, 0.285,
                 0.283, 0.28, 0.283, 0.277, 0.284, 0.285, 0.286, 0.28, 0.278, 0.28,
                 0.28, 0.295, 0.3, 0.28, 0.288, 0.285, 0.287, 0.275, 0.29, 0.275,
                 0.283, 0.285, 0.287, 0.288, 0.29, 0.283, 0.284, 0.285, 0.287, 0.288,
                 0.29, 0.285, 0.283, 0.287, 0.29, 0.283, 0.28, 0.283, 0.288, 0.283,
                 0.286, 0.28, 0.283, 0.285, 0.285, 0.29, 0.285, 0.286, 0.288, 0.283,
                 0.28, 0.27, 0.287, 0.29, 0.283, 0.285, 0.278, 0.278, 0.28, 0.285]

panels = [
    # (series, ylabel, y tick step, legend loc, axes rect, ylabel x, xlabel y)
    ([loss_a_gaze_tr, loss_a_age_tr, loss_a_fac_tr, loss_a_gaze_val, loss_a_age_val, loss_a_fac_val],
     'loss', 0.2, 'upper right', [0.0493, 0.5568, 0.2803, 0.3754]),
    ([loss_b_gaze_tr, loss_b_age_tr, loss_b_fac_tr, loss_b_gaze_val, loss_b_age_val, loss_b_fac_val],
     'loss', 0.2, 'upper right', [0.3828, 0.5549, 0.2797, 0.3768]),
    ([loss_c_gaze_tr, loss_c_age_tr, loss_c_fac_tr, loss_c_gaze_val, loss_c_age_val, loss_c_fac_val],
     'loss', 0.5, 'center right', [0.7144, 0.5559, 0.2797, 0.3749]),
    ([acc_a_gaze_tr, acc_a_age_tr, acc_a_fac_tr, acc_a_gaze_val, acc_a_age_val, acc_a_fac_val],
     'accuracy', 0.1, 'lower right', [0.0513, 0.0869, 0.2805, 0.3749]),
    ([acc_b_gaze_tr, acc_b_age_tr, acc_b_fac_tr, acc_b_gaze_val, acc_b_age_val, acc_b_fac_val],
     'accuracy', 0.1, 'lower right', [0.3823, 0.0845, 0.2820, 0.3773]),
    ([acc_c_gaze_tr, acc_c_age_tr, acc_c_fac_tr, acc_c_gaze_val, acc_c_age_val, acc_c_fac_val],
     'accuracy', 0.2, 'center right', [0.7141, 0.0865, 0.2800, 0.3744]),
]

ylabel_x = [0.0173, 0.3477, 0.6798, 0.0196, 0.3502, 0.6835]
ylabel_y = [0.7555, 0.7555, 0.7555, 0.276, 0.276, 0.276]
xlabel_x = [0.1907, 0.52, 0.8555, 0.1907, 0.52, 0.8555]
xlabel_y = [0.5081, 0.5065, 0.5065, 0.0406, 0.0358, 0.0358]

label_font = 'Lato'

fig = plt.figure(figsize=(15.616, 9.266), dpi=226)

for k, (series, ylab, ystep, loc, rect) in enumerate(panels):
    ax = fig.add_axes(rect)
    for values, lab, col in zip(series, series_labels, series_colors):
        ax.plot(epochs, values, color=col, lw=2.0, label=lab)
    ax.xaxis.set_major_locator(MultipleLocator(20))
    ax.yaxis.set_major_locator(MultipleLocator(ystep))
    ax.tick_params(labelsize=8.3)
    ax.legend(loc=loc, fontsize=8.5)
    fig.text(ylabel_x[k], ylabel_y[k], ylab, rotation=90, ha='center', va='center',
             fontsize=18.5, fontweight='bold', family=label_font)
    fig.text(xlabel_x[k], xlabel_y[k], 'epochs', ha='center', va='center',
             fontsize=18.5, fontweight='bold', family=label_font)

# boxed panel titles
title_boxes = [[0.0595, 0.9432, 0.2638, 0.0530],
               [0.3899, 0.9441, 0.2638, 0.0535],
               [0.7237, 0.9441, 0.2613, 0.0535]]
for box, title in zip(title_boxes, panel_titles):
    fig.patches.append(Rectangle((box[0], box[1]), box[2], box[3], transform=fig.transFigure,
                                 fill=False, edgecolor='black', lw=1.2))
    fig.text(box[0] + box[2] / 2, box[1] + box[3] / 2, title, ha='center', va='center',
             fontsize=19, fontweight='bold', family=label_font)

fig.savefig('out.png', dpi=226)
